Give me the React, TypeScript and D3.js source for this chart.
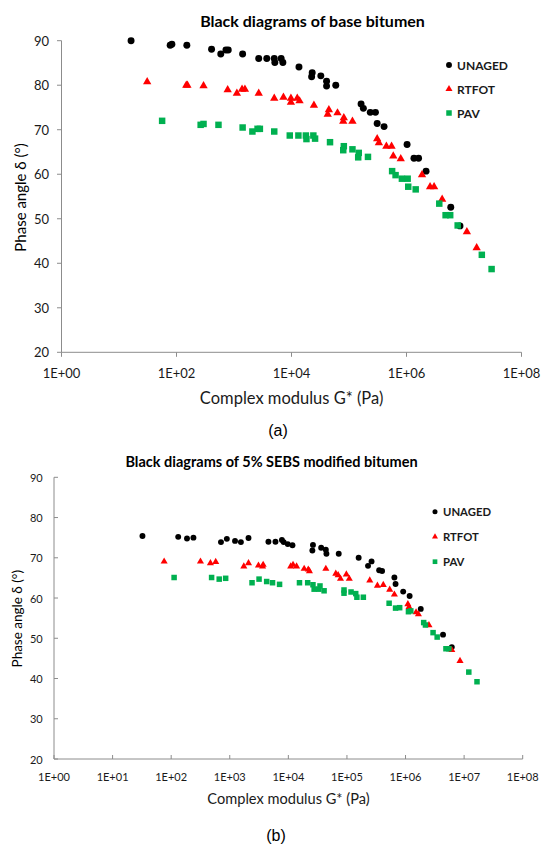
import React from "react";
import * as d3 from "d3";

// ---- Data: [log10(G* in Pa), phase angle in degrees] ----
const baseUnaged: [number, number][] = [
  [1.21, 90.0], [1.89, 89.0], [1.92, 89.2], [2.18, 89.0], [2.61, 88.1], [2.77, 87.0],
  [2.86, 87.9], [2.9, 87.9], [3.15, 87.0], [3.43, 86.0], [3.57, 86.0], [3.7, 86.0],
  [3.71, 85.1], [3.82, 86.0], [3.85, 85.1], [4.13, 84.1], [4.36, 82.8], [4.35, 81.9],
  [4.51, 82.1], [4.61, 80.9], [4.61, 79.8], [4.77, 80.0], [5.21, 75.8], [5.25, 74.8],
  [5.37, 73.9], [5.46, 73.9], [5.49, 71.4], [5.61, 70.7], [6.01, 66.7], [6.13, 63.6],
  [6.21, 63.6], [6.34, 60.7], [6.77, 52.6], [6.93, 48.4],
];
const baseRtfot: [number, number][] = [
  [1.49, 80.9], [2.17, 80.1], [2.19, 80.1], [2.47, 80.0], [2.89, 79.1], [3.05, 78.3],
  [3.14, 79.2], [3.19, 79.2], [3.43, 78.3], [3.7, 77.2], [3.86, 77.4], [3.99, 77.2],
  [3.99, 76.3], [4.1, 77.2], [4.14, 76.6], [4.39, 75.6], [4.65, 74.6], [4.63, 73.6],
  [4.8, 73.9], [4.91, 72.8], [4.9, 72.0], [5.06, 72.0], [5.49, 68.1], [5.52, 67.2],
  [5.65, 66.4], [5.74, 66.4], [5.77, 64.2], [5.9, 63.6], [6.27, 60.0], [6.41, 57.3],
  [6.48, 57.3], [6.62, 54.5], [7.05, 47.2], [7.22, 43.6],
];
const basePav: [number, number][] = [
  [1.75, 72.0], [2.42, 71.1], [2.47, 71.3], [2.73, 71.1], [3.15, 70.5], [3.32, 69.6],
  [3.41, 70.2], [3.45, 70.2], [3.7, 69.6], [3.97, 68.7], [4.12, 68.7], [4.25, 68.7],
  [4.26, 67.9], [4.38, 68.7], [4.41, 68.0], [4.67, 67.2], [4.91, 66.3], [4.9, 65.4],
  [5.06, 65.6], [5.17, 64.8], [5.16, 63.8], [5.33, 63.9], [5.75, 60.7], [5.81, 59.8],
  [5.92, 59.0], [6.02, 59.0], [6.03, 57.2], [6.16, 56.6], [6.57, 53.4], [6.68, 50.8],
  [6.76, 50.8], [6.89, 48.5], [7.31, 41.9], [7.48, 38.7],
];

const sebsUnaged: [number, number][] = [
  [1.51, 75.4], [2.12, 75.2], [2.27, 74.8], [2.38, 75.0], [2.85, 73.9], [2.95, 74.7],
  [3.09, 74.2], [3.19, 73.9], [3.32, 74.9], [3.66, 74.0], [3.78, 74.0], [3.89, 74.4],
  [3.92, 73.9], [3.99, 73.4], [4.07, 73.1], [4.42, 73.2], [4.41, 71.8], [4.56, 72.5],
  [4.64, 72.0], [4.65, 71.0], [4.86, 71.0], [5.2, 70.0], [5.42, 69.1], [5.36, 68.0],
  [5.55, 66.9], [5.6, 66.7], [5.81, 65.1], [5.83, 63.5], [5.96, 61.6], [6.07, 60.5],
  [6.26, 57.3], [6.64, 50.9], [6.79, 47.8],
];
const sebsRtfot: [number, number][] = [
  [1.88, 69.2], [2.5, 69.2], [2.67, 68.8], [2.76, 69.1], [3.24, 68.0], [3.32, 68.8],
  [3.49, 68.2], [3.56, 68.0], [3.57, 68.4], [4.04, 68.0], [4.08, 68.4], [4.14, 68.0],
  [4.27, 67.4], [4.36, 66.8], [4.34, 67.2], [4.64, 67.4], [4.81, 66.2], [4.85, 65.8],
  [4.89, 64.9], [4.99, 66.0], [5.04, 64.9], [5.39, 64.5], [5.52, 63.2], [5.62, 63.4],
  [5.73, 62.2], [5.81, 61.0], [6.04, 58.6], [6.06, 57.9], [6.18, 56.6], [6.22, 56.1],
  [6.4, 53.4], [6.79, 47.2], [6.93, 44.5],
];
const sebsPav: [number, number][] = [
  [2.05, 65.1], [2.69, 65.1], [2.82, 64.7], [2.93, 64.9], [3.38, 63.8], [3.5, 64.7],
  [3.63, 64.1], [3.73, 63.8], [3.85, 63.4], [4.19, 63.8], [4.33, 63.8], [4.42, 63.3],
  [4.44, 62.2], [4.54, 63.0], [4.52, 62.2], [4.61, 61.8], [4.95, 62.0], [4.95, 61.2],
  [5.07, 61.5], [5.15, 61.1], [5.17, 60.2], [5.28, 60.2], [5.72, 58.7], [5.83, 57.5],
  [5.9, 57.6], [6.05, 56.6], [6.09, 56.8], [6.31, 53.9], [6.34, 53.3], [6.47, 51.4],
  [6.54, 50.3], [6.69, 47.4], [6.74, 47.4], [7.08, 41.6], [7.22, 39.2],
];

const seriesNames = ["UNAGED", "RTFOT", "PAV"];
const seriesColors = ["#000000", "#FF0000", "#00B050"];
const yTicks = [20, 30, 40, 50, 60, 70, 80, 90];
const xTicksA = [1e0, 1e2, 1e4, 1e6, 1e8];
const xTicksB = [1e0, 1e1, 1e2, 1e3, 1e4, 1e5, 1e6, 1e7, 1e8];

const CAL = "Lato, 'Open Sans', sans-serif";
const TEXT = "#1a1a1a";
const AXIS = "#8c8c8c";

type ChartProps = {
  title: string;
  titleX: number; titleY: number; titleSize: number;
  series: [number, number][][];
  x0: number; x1: number; yTop: number; yBot: number;
  xTicks: number[];
  tickInside: boolean;
  tickSize: number;
  labelSize: number;
  xLabelY: number;
  yLabelRight: number;
  axisTitleSize: number;
  xTitleX: number; xTitleY: number;
  yTitleX: number; yTitleY: number; yTitleSize: number;
  legendX: number; legendY: number; legendGap: number; legendSize: number;
  markerScale: number;
  caption: string; captionX: number; captionY: number;
};

function sym(i: number, scale: number) {
  const types = [d3.symbolCircle, d3.symbolTriangle, d3.symbolSquare];
  const sizes = [38, 30, 42];
  return d3.symbol().type(types[i]).size(sizes[i] * scale * scale)() as string;
}

function Chart(p: ChartProps) {
  const x = d3.scaleLog().domain([1e0, 1e8]).range([p.x0, p.x1]);
  const y = d3.scaleLinear().domain([20, 90]).range([p.yBot, p.yTop]);
  const t = p.tickInside ? 1 : -1;
  return (
    <g>
      <text x={p.titleX} y={p.titleY} textAnchor="middle" dominantBaseline="central"
        fontFamily={CAL} fontWeight="bold" fontSize={p.titleSize} fill="#000">{p.title}</text>
      {/* axes */}
      <line x1={p.x0} x2={p.x0} y1={p.yTop} y2={p.yBot} stroke={AXIS} strokeWidth={1} />
      <line x1={p.x0} x2={p.x1} y1={p.yBot} y2={p.yBot} stroke={AXIS} strokeWidth={1} />
      {yTicks.map((v) => (
        <g key={"y" + v}>
          <line x1={p.x0} x2={p.x0 + t * p.tickSize} y1={y(v)} y2={y(v)} stroke={AXIS} />
          <text x={p.yLabelRight} y={y(v)} textAnchor="end" dominantBaseline="central"
            fontFamily={CAL} fontSize={p.labelSize} fill={TEXT}>{v}</text>
        </g>
      ))}
      {p.xTicks.map((v) => (
        <g key={"x" + v}>
          <line x1={x(v)} x2={x(v)} y1={p.yBot} y2={p.yBot - t * p.tickSize} stroke={AXIS} />
          <text x={x(v)} y={p.xLabelY} textAnchor="middle" dominantBaseline="central"
            fontFamily={CAL} fontSize={p.labelSize} fill={TEXT}>
            {"1E+" + String(Math.round(Math.log10(v))).padStart(2, "0")}
          </text>
        </g>
      ))}
      <text x={p.xTitleX} y={p.xTitleY} textAnchor="middle" dominantBaseline="central"
        fontFamily={CAL} fontSize={p.axisTitleSize} fill={TEXT}>Complex modulus G* (Pa)</text>
      <text transform={`translate(${p.yTitleX},${p.yTitleY}) rotate(-90)`} textAnchor="middle"
        dominantBaseline="central" fontFamily={CAL} fontSize={p.yTitleSize} fill="#000">
        Phase angle δ (°)
      </text>
      {/* points */}
      {p.series.map((s, i) => (
        <g key={"s" + i} fill={seriesColors[i]}>
          {s.map((d, j) => (
            <path key={j} d={sym(i, p.markerScale)}
              transform={`translate(${x(10 ** d[0])},${y(d[1]) + (i === 1 ? 0.6 * p.markerScale : 0)})`} />
          ))}
        </g>
      ))}
      {/* legend */}
      {seriesNames.map((n, i) => (
        <g key={n} transform={`translate(${p.legendX},${p.legendY + i * p.legendGap})`}>
          <path d={sym(i, p.markerScale * 0.85)} fill={seriesColors[i]} />
          <text x={8} y={0} dominantBaseline="central" fontFamily={CAL} fontWeight="bold"
            fontSize={p.legendSize} fill={TEXT}>{n}</text>
        </g>
      ))}
      <text x={p.captionX} y={p.captionY} textAnchor="middle" dominantBaseline="central"
        fontFamily="'Liberation Sans', Arial, sans-serif" fontSize={16} fill="#000">{p.caption}</text>
    </g>
  );
}

export default function App() {
  return (
    <svg width={541} height={845} style={{ position: "absolute", left: 0, top: 0, background: "#fff" }}>
      <rect width={541} height={845} fill="#fff" />
      <Chart
        title="Black diagrams of base bitumen" titleX={312.5} titleY={20} titleSize={16}
        series={[baseUnaged, baseRtfot, basePav]}
        x0={61.5} x1={521.5} yTop={40.7} yBot={352.3}
        xTicks={xTicksA} tickInside={false} tickSize={4.5} labelSize={13}
        xLabelY={373} yLabelRight={49}
        axisTitleSize={16.5} xTitleX={291.6} xTitleY={398}
        yTitleX={19.5} yTitleY={197.5} yTitleSize={15}
        legendX={449} legendY={65} legendGap={24} legendSize={12}
        markerScale={1}
        caption="(a)" captionX={278} captionY={430}
      />
      <Chart
        title="Black diagrams of 5% SEBS modified bitumen" titleX={271.5} titleY={461} titleSize={14.5}
        series={[sebsUnaged, sebsRtfot, sebsPav]}
        x0={54} x1={522.7} yTop={477.3} yBot={759}
        xTicks={xTicksB} tickInside={true} tickSize={4} labelSize={11}
        xLabelY={776.7} yLabelRight={42.7}
        axisTitleSize={14.6} xTitleX={288.5} xTitleY={798}
        yTitleX={17.3} yTitleY={618.7} yTitleSize={13.5}
        legendX={435} legendY={511.7} legendGap={25} legendSize={11.3}
        markerScale={0.85}
        caption="(b)" captionX={276} captionY={835}
      />
    </svg>
  );
}
